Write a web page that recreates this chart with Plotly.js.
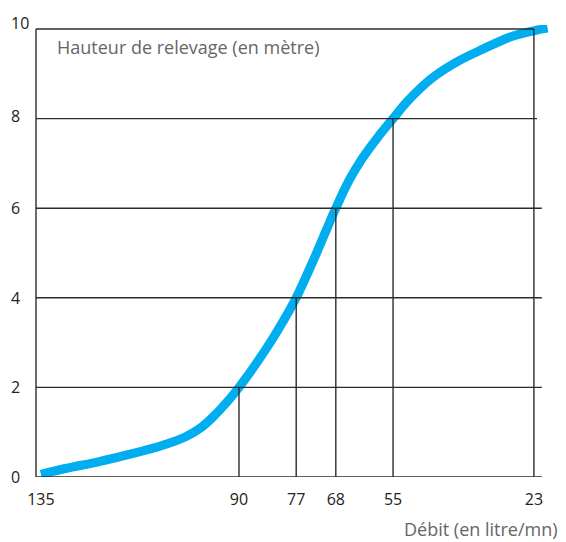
<!DOCTYPE html>
<html>
<head>
<meta charset="utf-8">
<script src="https://cdn.plot.ly/plotly-3.0.1.min.js"></script>
<style>html,body{margin:0;padding:0;background:#fff;}#chart{width:566px;height:542px;}</style>
</head>
<body>
<div id="chart"></div>
<script>
// Data
const debit   = [135, 129.4, 122.0, 114.7, 107.3, 102.1, 98.4, 95.5, 92.4, 90, 83.5, 80, 77, 72.5, 70, 68, 65, 62, 58.5, 55, 51.6, 46.2, 40.8, 34.6, 28.4, 23, 19.9];
const hauteur = [0.06, 0.19, 0.34, 0.51, 0.71, 0.90, 1.12, 1.38, 1.71, 2, 2.91, 3.47, 4, 4.97, 5.55, 6, 6.62, 7.11, 7.58, 8, 8.40, 8.90, 9.25, 9.55, 9.82, 9.96, 10.02];
const xTicks = [135, 90, 77, 68, 55, 23];
const xTickLabels = ['135', '90', '77', '68', '55', '23'];
const yTicks = [0, 2, 4, 6, 8, 10];
const yTickLabels = ['0', '2', '4', '6', '8', '10'];
const dropX = [90, 77, 68, 55, 23];
const dropY = [2, 4, 6, 8, 10];
const yTitle = 'Hauteur de relevage (en mètre)';
const xTitle = 'Débit (en litre/mn)';

const lineColor = '#2b2b2b';
const font = 'Open Sans, Lato, sans-serif';

const shapes = [];
// left axis
shapes.push({type: 'line', xref: 'paper', yref: 'y', x0: 0, x1: 0, y0: 0, y1: 10,
  line: {color: lineColor, width: 1.4}});
// horizontal grid lines
yTicks.forEach(v => {
  shapes.push({type: 'line', xref: 'x', yref: 'y', x0: 136.11, x1: (v === 10 ? 23 : (v === 8 ? 22.3 : 21.2)), y0: v, y1: v,
    line: {color: lineColor, width: 1.4}});
});
// vertical drop lines
dropX.forEach((x, i) => {
  shapes.push({type: 'line', xref: 'x', yref: 'y', x0: x, x1: x, y0: 0, y1: dropY[i],
    line: {color: lineColor, width: 1.4}});
});

const annotations = [];
yTicks.forEach((v, i) => {
  annotations.push({xref: 'paper', yref: 'y', x: 0, y: v, xanchor: 'left', yanchor: 'middle',
    xshift: -27, yshift: (v === 10 ? 6 : (v === 8 ? 3 : 0)), text: yTickLabels[i], showarrow: false,
    font: {family: font, size: 16, color: '#222'}});
});
annotations.push({xref: 'paper', yref: 'paper', x: 0, y: 1, xanchor: 'left', yanchor: 'middle',
  xshift: 19, yshift: -22, text: yTitle, showarrow: false,
  font: {family: font, size: 18, color: '#666'}});
annotations.push({xref: 'paper', yref: 'paper', x: 1, y: 0, xanchor: 'right', yanchor: 'middle',
  xshift: 11, yshift: -52, text: xTitle, showarrow: false, borderpad: 0,
  font: {family: font, size: 18, color: '#666'}});

const trace = {
  x: debit, y: hauteur, type: 'scatter', mode: 'lines',
  line: {color: '#00aeef', width: 9, shape: 'spline', smoothing: 1},
  hoverinfo: 'skip'
};

const layout = {
  width: 566, height: 542,
  margin: {l: 36, r: 18, t: 25, b: 65},
  paper_bgcolor: '#fff', plot_bgcolor: '#fff',
  showlegend: false,
  xaxis: {range: [136.11, 19.8], tickvals: xTicks, ticktext: xTickLabels, showgrid: false,
    zeroline: false, showline: false, ticks: '', ticklabelstandoff: 11,
    tickfont: {family: font, size: 16, color: '#222'}},
  yaxis: {range: [0, 10.089], showgrid: false, zeroline: false, showline: false,
    showticklabels: false, ticks: ''},
  shapes: shapes,
  annotations: annotations
};

Plotly.newPlot('chart', [trace], layout, {displayModeBar: false, staticPlot: true});
</script>
</body>
</html>
